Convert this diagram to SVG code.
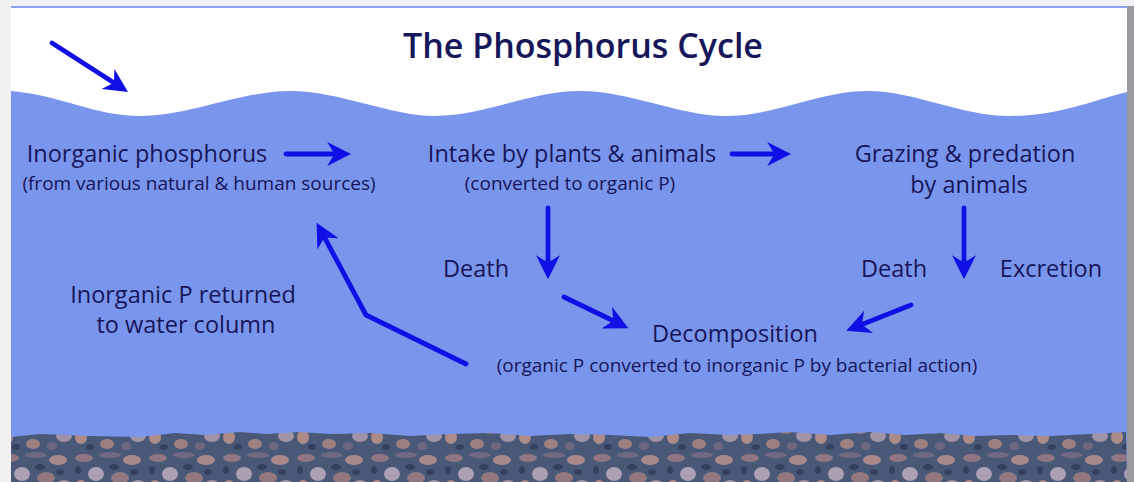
<svg xmlns="http://www.w3.org/2000/svg" width="1134" height="482" viewBox="0 0 1134 482">
<style>
.t{font-family:"Open Sans","Liberation Sans",sans-serif;fill:#16165a;}
.big{font-size:23.5px;}
.small{font-size:19px;}
.ttl{font-size:34px;font-weight:600;}
.arr{fill:none;stroke:#1010e6;stroke-width:4.8;stroke-linecap:round;stroke-linejoin:round;}
</style>
<defs>
<marker id="ah" viewBox="0 0 10 10" refX="7" refY="5" markerWidth="5" markerHeight="5" orient="auto" markerUnits="strokeWidth">
<path d="M0,0 L10,5 L0,10 L3,5 Z" fill="#1010e6"/>
</marker>
<pattern id="sed" width="74" height="50" patternUnits="userSpaceOnUse">
<rect width="74" height="50" fill="#4a5878"/>
<ellipse cx="10" cy="8" rx="9" ry="4" fill="#8f7682"/>
<ellipse cx="36" cy="5" rx="11" ry="3" fill="#6f6a82"/>
<ellipse cx="58" cy="10" rx="9" ry="5" fill="#a98a8c"/>
<ellipse cx="22" cy="24" rx="8" ry="7" fill="#ab9fb4"/>
<ellipse cx="46" cy="28" rx="9" ry="6" fill="#937880"/>
<ellipse cx="7" cy="37" rx="6" ry="7" fill="#ad8b88"/>
<ellipse cx="64" cy="36" rx="8" ry="6" fill="#a193a6"/>
<ellipse cx="33" cy="44" rx="7" ry="5" fill="#9d8082"/>
<ellipse cx="52" cy="46" rx="5" ry="4" fill="#6d6880"/>
<ellipse cx="40" cy="17" rx="5" ry="3" fill="#34405e"/>
<ellipse cx="16" cy="47" rx="4" ry="3" fill="#34405e"/>
<ellipse cx="60" cy="22" rx="4" ry="3" fill="#34405e"/>
<ellipse cx="4" cy="20" rx="3" ry="4" fill="#34405e"/>
</pattern>
</defs>
<rect width="1134" height="482" fill="#f1f1f3"/>
<rect x="1127" y="6" width="7" height="476" fill="#9a9a9e"/>
<rect x="11" y="6" width="1116" height="476" fill="#ffffff"/>
<rect x="11" y="6" width="1116" height="2" fill="#8aa2ee"/>
<g id="water">
<path d="M11,91 C60,95 95,116 140,116 C190,116 240,91 290,91 C340,91 390,116 435,116 C485,116 530,91 580,91 C630,91 680,116 725,116 C775,116 820,91 868,91 C915,91 960,116 1010,116 C1060,116 1100,98 1127,92 L1127,482 L11,482 Z" fill="#7a95ec"/>
</g>
<g id="sediment">
<path d="M11,437 L40,434 L90,436 L140,437 L175,433 L205,435 L240,432 L265,434 L300,432 L330,434 L370,433 L410,436 L450,434 L490,433 L530,436 L570,434 L610,435 L650,437 L690,433 L730,435 L760,434 L790,432 L830,435 L870,432 L905,435 L940,433 L975,436 L1010,435 L1050,436 L1090,434 L1126,432 L1127,482 L11,482 Z" fill="url(#sed)"/>
</g>
<g id="title"><text class="t ttl" x="583" y="58" text-anchor="middle">The Phosphorus Cycle</text></g>
<g id="inorganic">
<text class="t big" x="147" y="162" text-anchor="middle">Inorganic phosphorus</text>
<text class="t small" x="199" y="190" text-anchor="middle">(from various natural &amp; human sources)</text>
</g>
<g id="intake">
<text class="t big" x="572" y="162" text-anchor="middle">Intake by plants &amp; animals</text>
<text class="t small" x="570" y="190" text-anchor="middle">(converted to organic P)</text>
</g>
<g id="grazing">
<text class="t big" x="965" y="162" text-anchor="middle">Grazing &amp; predation</text>
<text class="t big" x="969" y="193" text-anchor="middle">by animals</text>
</g>
<g id="death1"><text class="t big" x="476" y="277" text-anchor="middle">Death</text></g>
<g id="death2"><text class="t big" x="894" y="277" text-anchor="middle">Death</text></g>
<g id="excretion"><text class="t big" x="1051" y="277" text-anchor="middle">Excretion</text></g>
<g id="returned">
<text class="t big" x="183" y="303" text-anchor="middle">Inorganic P returned</text>
<text class="t big" x="186" y="333" text-anchor="middle">to water column</text>
</g>
<g id="decomposition">
<text class="t big" x="735" y="342" text-anchor="middle">Decomposition</text>
<text class="t small" x="737" y="372" text-anchor="middle">(organic P converted to inorganic P by bacterial action)</text>
</g>
<g id="connectors">
<path class="arr" d="M52,43 L122,88" marker-end="url(#ah)"/>
<path class="arr" d="M286,154 L344,154" marker-end="url(#ah)"/>
<path class="arr" d="M732,154 L784,154" marker-end="url(#ah)"/>
<path class="arr" d="M548,208 L548,272" marker-end="url(#ah)"/>
<path class="arr" d="M964,208 L964,272" marker-end="url(#ah)"/>
<path class="arr" d="M564,297 L622,325" marker-end="url(#ah)"/>
<path class="arr" d="M911,305 L853,328" marker-end="url(#ah)"/>
<path class="arr" d="M466,364 L366,315 L320,229" marker-end="url(#ah)"/>
</g>
</svg>
